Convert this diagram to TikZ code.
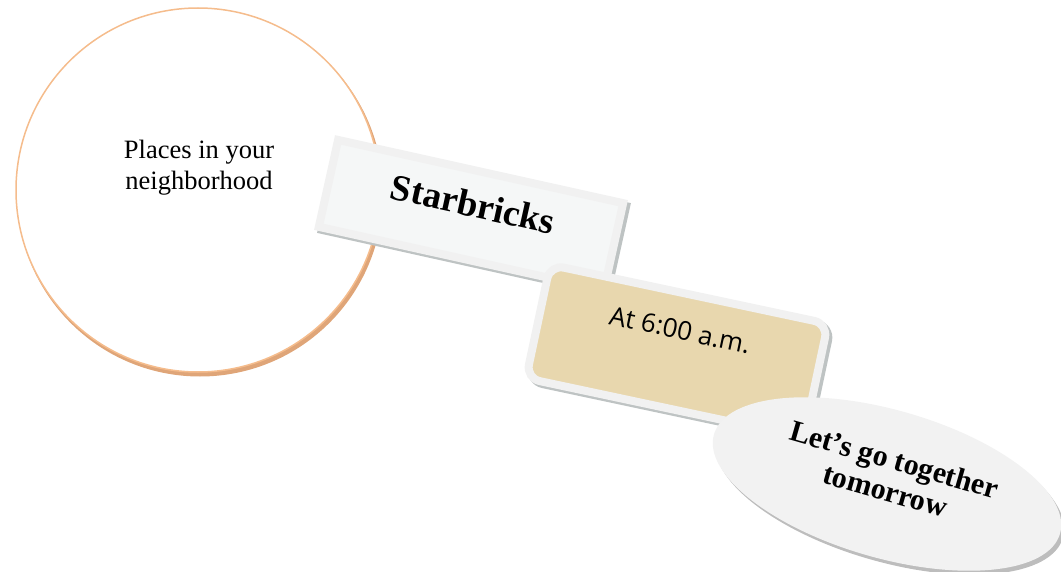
\documentclass[tikz,border=0pt]{standalone}
\usepackage{fontspec}
\setmainfont{Liberation Serif}
\newfontfamily\atfont{Open Sans}
\usetikzlibrary{shapes.geometric}
\definecolor{circedge}{HTML}{F5BC8C}
\definecolor{circshadow}{HTML}{DFA578}
\definecolor{boxborder}{HTML}{F1F1F1}
\definecolor{boxfill}{HTML}{F5F7F7}
\definecolor{boxshadow}{HTML}{BEC3C3}
\definecolor{tanfill}{HTML}{E8D7AE}
\definecolor{ellfill}{HTML}{F2F2F2}
\definecolor{ellshadow}{HTML}{BDBDBD}
\tikzset{
  shadowbox/.style={rectangle, fill=boxshadow, inner sep=0pt},
  plainbox/.style={rectangle, draw=boxborder, line width=8pt, fill=boxfill, inner sep=0pt},
  tanbox/.style={rectangle, rounded corners=14pt, draw=boxborder, line width=8pt, fill=tanfill, inner sep=0pt},
  labeltext/.style={inner sep=0pt, align=center}
}
\begin{document}
\begin{tikzpicture}[x=1pt,y=-1pt]
\useasboundingbox (0,0) rectangle (1061,572);
% circle
\node[circle, minimum size=366pt, inner sep=0pt, fill=circshadow] (circS) at (200,193.5) {};
\node[circle, minimum size=364pt, inner sep=0pt, fill=white, draw=circedge, line width=1.5pt] (circ) at (198,190) {};
\node[labeltext, font=\fontsize{26.5}{31}\selectfont] (placesT) at (199,168) {Places in your\\neighborhood};
% Starbricks box
\node[shadowbox, minimum width=300pt, minimum height=97pt, rotate=-12.5] (starS) at (474,218) {};
\node[plainbox, minimum width=292pt, minimum height=89pt, rotate=-12.5] (star) at (471,215) {};
\node[labeltext, font=\fontsize{37}{40}\selectfont\bfseries, rotate=-12.5] (starT) at (473,204) {Starbricks};
% At 6:00 box
\node[shadowbox, rounded corners=18pt, minimum width=292pt, minimum height=124pt, rotate=-12] (atS) at (680,354) {};
\node[tanbox, minimum width=284pt, minimum height=116pt, rotate=-12] (at) at (677,351) {};
\node[labeltext, font=\atfont\fontsize{26}{30}\selectfont, rotate=-12] (atT) at (680,330) {At 6:00 a.m.};
% ellipse
\node[ellipse, minimum width=360pt, minimum height=148pt, inner sep=0pt, fill=ellshadow, rotate=-16] (ellS) at (890,488) {};
\node[ellipse, minimum width=360pt, minimum height=148pt, inner sep=0pt, fill=ellfill, rotate=-16] (ell) at (887,484) {};
\node[labeltext, font=\fontsize{30}{32}\selectfont\bfseries, rotate=-16] (ellT) at (890,475) {Let’s go together\\tomorrow};
\end{tikzpicture}
\end{document}
